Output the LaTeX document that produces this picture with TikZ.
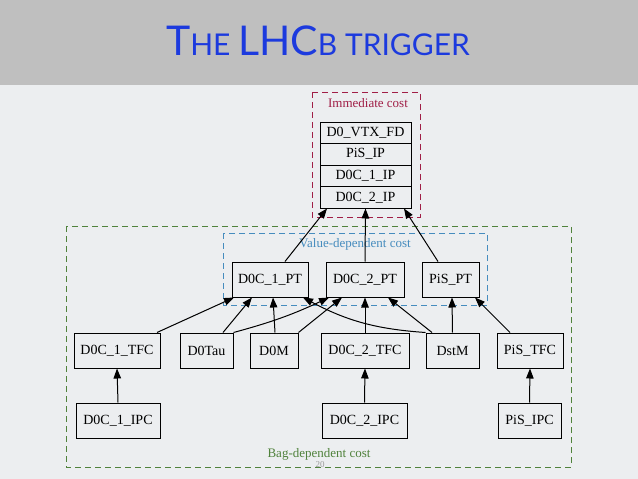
\documentclass[tikz,border=0pt]{standalone}
\usepackage{fontspec}
\setmainfont{Liberation Serif}
\newfontfamily\titlefont{Lato}
\usetikzlibrary{arrows.meta,calc}
\definecolor{bannergray}{RGB}{191,191,191}
\definecolor{slidebg}{RGB}{236,238,240}
\definecolor{titleblue}{RGB}{28,58,222}
\definecolor{immred}{RGB}{160,30,70}
\definecolor{valblue}{RGB}{70,140,190}
\definecolor{baggreen}{RGB}{80,130,60}
\tikzset{
  box/.style={draw=black, line width=1pt, fill=none, inner sep=0pt, minimum height=35pt, font=\fontsize{14}{14}\selectfont},
  rec/.style={draw=black, line width=1pt, inner sep=0pt, minimum width=91pt, minimum height=21.5pt, font=\fontsize{14}{14}\selectfont},
  arr/.style={line width=1pt, -{Triangle[length=10pt,width=7.5pt]}},
  cluster/.style={dashed, line width=0.8pt, dash pattern=on 6pt off 4pt},
  clabel/.style={font=\fontsize{13}{13}\selectfont, inner sep=0pt}
}
\begin{document}
\begin{tikzpicture}[x=1pt,y=-1pt]
\useasboundingbox (0,0) rectangle (638,479);
\fill[slidebg] (0,0) rectangle (638,479);
\fill[bannergray] (0,0) rectangle (638,85);
\node[anchor=base, text=titleblue, inner sep=0pt] (title) at (318,56)
  {\titlefont\fontsize{41}{41}\selectfont T\fontsize{30}{30}\selectfont HE \fontsize{41}{41}\selectfont LHC\fontsize{30}{30}\selectfont B TRIGGER};

% clusters
\draw[cluster, baggreen] (66,226) rectangle (571,467);
\draw[cluster, valblue] (223,233) rectangle (487,305);
\draw[cluster, immred] (312,92) rectangle (420,217);
\node[clabel, text=immred] (limm) at (368,103) {Immediate cost};
\node[clabel, text=valblue] (lval) at (355,244) {Value-dependent cost};
\node[clabel, text=baggreen] (lbag) at (319,454) {Bag-dependent cost};
\node[font=\fontsize{9}{9}\selectfont, text=black!40, inner sep=0pt] (pnum) at (320,465) {20};

% record
\node[rec] (r1) at (365.5,132.75) {D0\_VTX\_FD};
\node[rec] (r2) at (365.5,154.25) {PiS\_IP};
\node[rec] (r3) at (365.5,175.75) {D0C\_1\_IP};
\node[rec] (r4) at (365.5,197.25) {D0C\_2\_IP};

% value nodes
\node[box, minimum width=76pt] (c1pt) at (270,279.5) {D0C\_1\_PT};
\node[box, minimum width=78pt] (c2pt) at (365,279.5) {D0C\_2\_PT};
\node[box, minimum width=57pt] (pspt) at (450.5,279.5) {PiS\_PT};

% middle row
\node[box, minimum width=86pt] (c1tfc) at (117,350.5) {D0C\_1\_TFC};
\node[box, minimum width=53pt] (d0tau) at (206.5,350.5) {D0Tau};
\node[box, minimum width=48pt] (d0m) at (274,350.5) {D0M};
\node[box, minimum width=88pt] (c2tfc) at (365,350.5) {D0C\_2\_TFC};
\node[box, minimum width=53pt] (dstm) at (452.5,350.5) {DstM};
\node[box, minimum width=66pt] (pstfc) at (530,350.5) {PiS\_TFC};

% bottom row
\node[box, minimum width=84pt] (c1ipc) at (118,420.5) {D0C\_1\_IPC};
\node[box, minimum width=85pt] (c2ipc) at (364.5,420.5) {D0C\_2\_IPC};
\node[box, minimum width=63pt] (psipc) at (529.5,420.5) {PiS\_IPC};

% bottom arrows
\draw[arr] (c1ipc.north) -- (c1tfc.south);
\draw[arr] (c2ipc.north) -- (c2tfc.south);
\draw[arr] (psipc.north) -- (pstfc.south);

% into D0C_1_PT
\draw[arr] ([xshift=40pt]c1tfc.north) -- ([xshift=-36pt]c1pt.south);
\draw[arr] ([xshift=16.5pt]d0tau.north) -- ([xshift=-18pt]c1pt.south);
\draw[arr] ([xshift=1pt]d0m.north) -- ([xshift=3pt]c1pt.south);
\draw[arr] (dstm.north west) to[bend left=12] ([xshift=33pt]c1pt.south);
% into D0C_2_PT
\draw[arr] (d0tau.north east) to[bend right=5] ([xshift=-36pt]c2pt.south);
\draw[arr] (d0m.north east) -- ([xshift=-23pt]c2pt.south);
\draw[arr] (c2tfc.north) -- (c2pt.south);
\draw[arr] ([xshift=-20.5pt]dstm.north) -- ([xshift=23pt]c2pt.south);
% into PiS_PT
\draw[arr] (dstm.north) -- ([xshift=1.5pt]pspt.south);
\draw[arr] ([xshift=-20pt]pstfc.north) -- ([xshift=24.5pt]pspt.south);

% into record
\draw[arr] ([xshift=15pt]c1pt.north) -- ([xshift=-38.5pt]r4.south);
\draw[arr] (c2pt.north) -- (r4.south);
\draw[arr] ([xshift=-12.5pt]pspt.north) -- ([xshift=38.5pt]r4.south);
\end{tikzpicture}
\end{document}
